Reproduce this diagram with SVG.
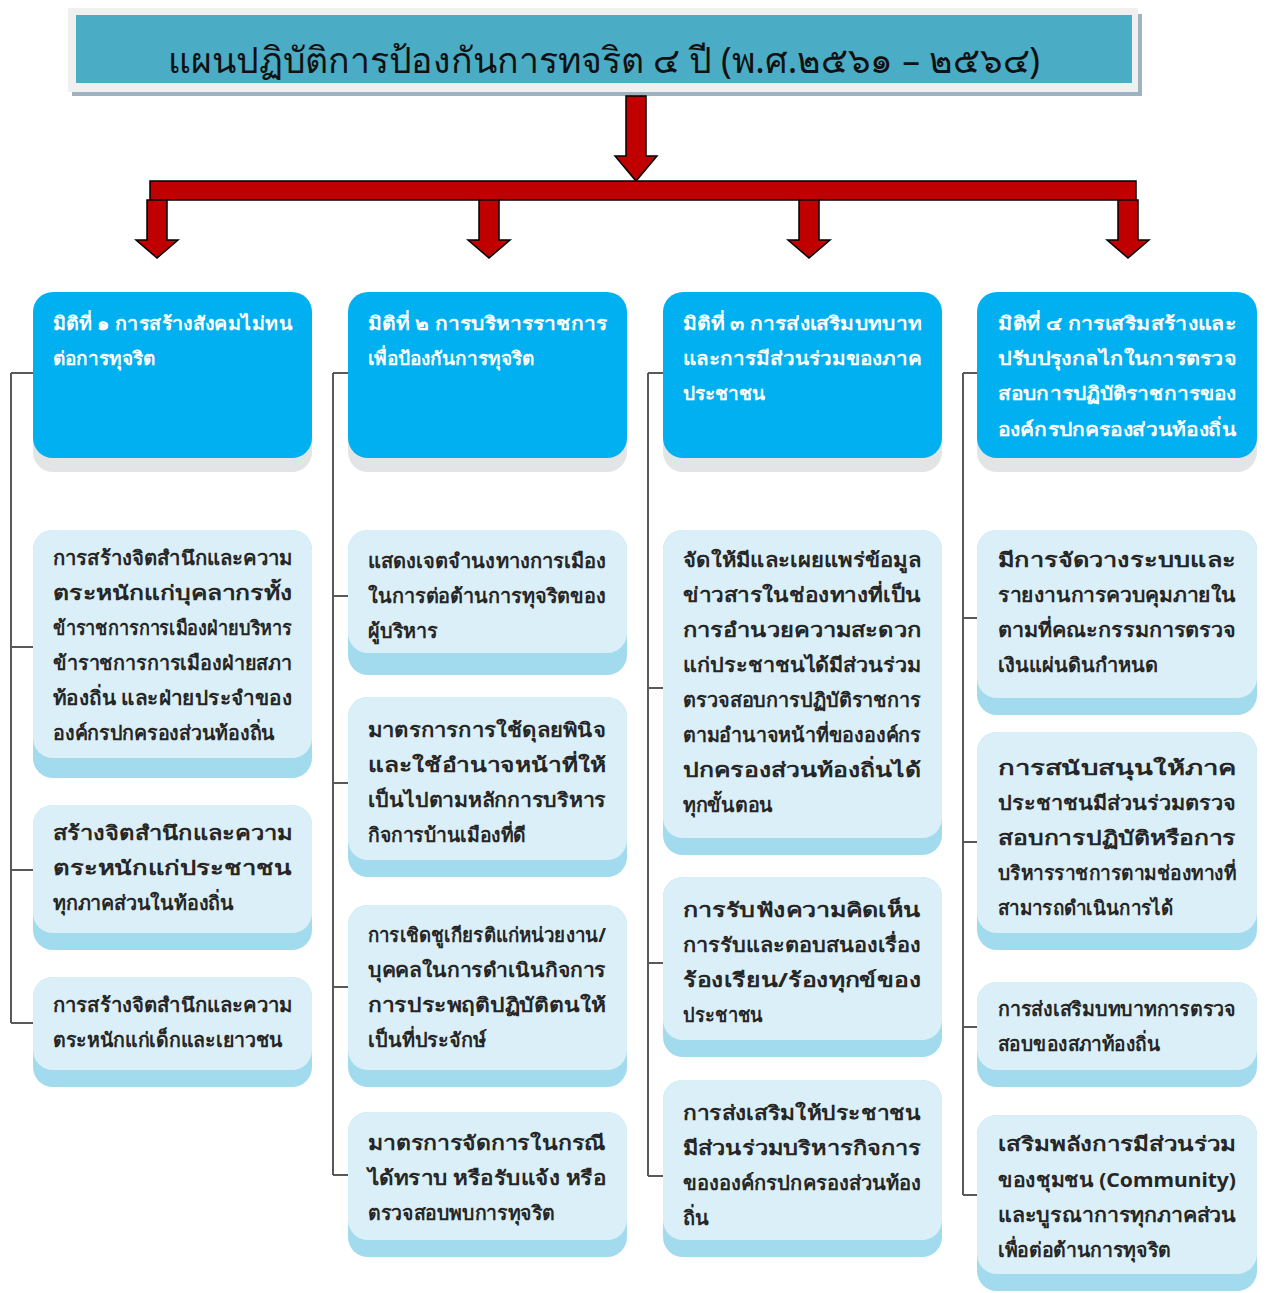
<svg xmlns="http://www.w3.org/2000/svg" width="1266" height="1293" viewBox="0 0 1266 1293">
<defs>
<style>
.title{font-family:"Noto Sans","Liberation Sans",sans-serif;font-size:36px;fill:#111}
.hd{font-family:"Noto Sans","Liberation Sans",sans-serif;font-size:19px;font-weight:bold;fill:#fff}
.tx{font-family:"Noto Sans","Liberation Sans",sans-serif;font-size:20px;font-weight:bold;fill:#262626}
.arrow{fill:#C00000;stroke:#000;stroke-width:1.5}
.conn{stroke:#595959;stroke-width:2;fill:none}
.hbox{fill:#00B0F0}
.hsh{fill:#E3E4E6}
.band{fill:#A2DBEE}
.face{fill:#DAEFF7}
</style>
</defs>
<rect width="1266" height="1293" fill="#fff"/>
<g id="title">
<rect x="72" y="14" width="1070" height="82" fill="#9EB3BF"/>
<rect x="68" y="8" width="1070" height="84" fill="#F0F0F0"/>
<rect x="76" y="15" width="1056" height="68" fill="#4BACC6"/>
<text class="title" x="168" y="73" textLength="872" lengthAdjust="spacingAndGlyphs">แผนปฏิบัติการป้องกันการทจริต ๔ ปี (พ.ศ.๒๕๖๑ – ๒๕๖๔)</text>
</g>
<g id="arrows">
<polygon class="arrow" points="626,96 646,96 646,156 657,156 636,181 615,156 626,156"/>
<rect class="arrow" x="150" y="181" width="986" height="19"/>
<polygon class="arrow" points="147,200 167,200 167,240 178,240 157,258 136,240 147,240"/>
<polygon class="arrow" points="479,200 499,200 499,240 510,240 489,258 468,240 479,240"/>
<polygon class="arrow" points="799,200 819,200 819,240 830,240 809,258 788,240 799,240"/>
<polygon class="arrow" points="1118,200 1138,200 1138,240 1149,240 1128,258 1107,240 1118,240"/>
</g>
<g id="connectors">
<path class="conn" d="M11,373 V1023 M11,373 H33 M11,647 H33 M11,870 H33 M11,1023 H33"/>
<path class="conn" d="M333,373 V1175 M333,373 H348 M333,596 H348 M333,783 H348 M333,987 H348 M333,1175 H348"/>
<path class="conn" d="M648,373 V1176 M648,373 H663 M648,688 H663 M648,963 H663 M648,1176 H663"/>
<path class="conn" d="M963,373 V1195 M963,373 H977 M963,618 H977 M963,842 H977 M963,1027 H977 M963,1195 H977"/>
</g>
<g id="h1">
<rect class="hsh" x="33" y="300" width="279" height="172" rx="20"/>
<rect class="hbox" x="33" y="292" width="279" height="166" rx="20"/>
<text class="hd" x="53" y="330" textLength="239" lengthAdjust="spacingAndGlyphs">มิติที่ ๑ การสร้างสังคมไม่ทน</text>
<text class="hd" x="53" y="365">ต่อการทุจริต</text>
</g>
<g id="h2">
<rect class="hsh" x="348" y="300" width="279" height="172" rx="20"/>
<rect class="hbox" x="348" y="292" width="279" height="166" rx="20"/>
<text class="hd" x="368" y="330" textLength="239" lengthAdjust="spacingAndGlyphs">มิติที่ ๒ การบริหารราชการ</text>
<text class="hd" x="368" y="365">เพื่อป้องกันการทุจริต</text>
</g>
<g id="h3">
<rect class="hsh" x="663" y="300" width="279" height="172" rx="20"/>
<rect class="hbox" x="663" y="292" width="279" height="166" rx="20"/>
<text class="hd" x="683" y="330" textLength="239" lengthAdjust="spacingAndGlyphs">มิติที่ ๓ การส่งเสริมบทบาท</text>
<text class="hd" x="683" y="365" textLength="239" lengthAdjust="spacingAndGlyphs">และการมีส่วนร่วมของภาค</text>
<text class="hd" x="683" y="400">ประชาชน</text>
</g>
<g id="h4">
<rect class="hsh" x="977" y="300" width="280" height="172" rx="20"/>
<rect class="hbox" x="977" y="292" width="280" height="166" rx="20"/>
<text class="hd" x="998" y="330" textLength="238" lengthAdjust="spacingAndGlyphs">มิติที่ ๔ การเสริมสร้างและ</text>
<text class="hd" x="998" y="365" textLength="238" lengthAdjust="spacingAndGlyphs">ปรับปรุงกลไกในการตรวจ</text>
<text class="hd" x="998" y="400" textLength="238" lengthAdjust="spacingAndGlyphs">สอบการปฏิบัติราชการของ</text>
<text class="hd" x="998" y="436" textLength="238" lengthAdjust="spacingAndGlyphs">องค์กรปกครองส่วนท้องถิ่น</text>
</g>
<g id="c1a">
<rect class="band" x="33" y="530" width="279" height="248" rx="20"/>
<rect class="face" x="33" y="530" width="279" height="228" rx="20"/>
<text class="tx" x="53" y="565" textLength="239" lengthAdjust="spacingAndGlyphs">การสร้างจิตสำนึกและความ</text>
<text class="tx" x="53" y="600" textLength="239" lengthAdjust="spacingAndGlyphs">ตระหนักแก่บุคลากรทั้ง</text>
<text class="tx" x="53" y="635" textLength="239" lengthAdjust="spacingAndGlyphs">ข้าราชการการเมืองฝ่ายบริหาร</text>
<text class="tx" x="53" y="670" textLength="239" lengthAdjust="spacingAndGlyphs">ข้าราชการการเมืองฝ่ายสภา</text>
<text class="tx" x="53" y="705" textLength="239" lengthAdjust="spacingAndGlyphs">ท้องถิ่น และฝ่ายประจำของ</text>
<text class="tx" x="53" y="740" textLength="222" lengthAdjust="spacingAndGlyphs">องค์กรปกครองส่วนท้องถิ่น</text>
</g>
<g id="c1b">
<rect class="band" x="33" y="805" width="279" height="145" rx="20"/>
<rect class="face" x="33" y="805" width="279" height="128" rx="20"/>
<text class="tx" x="53" y="840" textLength="239" lengthAdjust="spacingAndGlyphs">สร้างจิตสำนึกและความ</text>
<text class="tx" x="53" y="875" textLength="239" lengthAdjust="spacingAndGlyphs">ตระหนักแก่ประชาชน</text>
<text class="tx" x="53" y="910" textLength="181" lengthAdjust="spacingAndGlyphs">ทุกภาคส่วนในท้องถิ่น</text>
</g>
<g id="c1c">
<rect class="band" x="33" y="977" width="279" height="110" rx="20"/>
<rect class="face" x="33" y="977" width="279" height="93" rx="20"/>
<text class="tx" x="53" y="1012" textLength="239" lengthAdjust="spacingAndGlyphs">การสร้างจิตสำนึกและความ</text>
<text class="tx" x="53" y="1047" textLength="230" lengthAdjust="spacingAndGlyphs">ตระหนักแก่เด็กและเยาวชน</text>
</g>
<g id="c2a">
<rect class="band" x="348" y="530" width="279" height="145" rx="20"/>
<rect class="face" x="348" y="530" width="279" height="123" rx="20"/>
<text class="tx" x="368" y="568" textLength="238" lengthAdjust="spacingAndGlyphs">แสดงเจตจำนงทางการเมือง</text>
<text class="tx" x="368" y="603" textLength="238" lengthAdjust="spacingAndGlyphs">ในการต่อต้านการทุจริตของ</text>
<text class="tx" x="368" y="638" textLength="70" lengthAdjust="spacingAndGlyphs">ผู้บริหาร</text>
</g>
<g id="c2b">
<rect class="band" x="348" y="697" width="279" height="180" rx="20"/>
<rect class="face" x="348" y="697" width="279" height="163" rx="20"/>
<text class="tx" x="368" y="737" textLength="238" lengthAdjust="spacingAndGlyphs">มาตรการการใช้ดุลยพินิจ</text>
<text class="tx" x="368" y="772" textLength="238" lengthAdjust="spacingAndGlyphs">และใช้อำนาจหน้าที่ให้</text>
<text class="tx" x="368" y="807" textLength="238" lengthAdjust="spacingAndGlyphs">เป็นไปตามหลักการบริหาร</text>
<text class="tx" x="368" y="842" textLength="158" lengthAdjust="spacingAndGlyphs">กิจการบ้านเมืองที่ดี</text>
</g>
<g id="c2c">
<rect class="band" x="348" y="905" width="279" height="182" rx="20"/>
<rect class="face" x="348" y="905" width="279" height="165" rx="20"/>
<text class="tx" x="368" y="942" textLength="238" lengthAdjust="spacingAndGlyphs">การเชิดชูเกียรติแก่หน่วยงาน/</text>
<text class="tx" x="368" y="977" textLength="238" lengthAdjust="spacingAndGlyphs">บุคคลในการดำเนินกิจการ</text>
<text class="tx" x="368" y="1012" textLength="238" lengthAdjust="spacingAndGlyphs">การประพฤติปฏิบัติตนให้</text>
<text class="tx" x="368" y="1047" textLength="118" lengthAdjust="spacingAndGlyphs">เป็นที่ประจักษ์</text>
</g>
<g id="c2d">
<rect class="band" x="348" y="1112" width="279" height="145" rx="20"/>
<rect class="face" x="348" y="1112" width="279" height="128" rx="20"/>
<text class="tx" x="368" y="1150" textLength="238" lengthAdjust="spacingAndGlyphs">มาตรการจัดการในกรณี</text>
<text class="tx" x="368" y="1185" textLength="238" lengthAdjust="spacingAndGlyphs">ได้ทราบ หรือรับแจ้ง หรือ</text>
<text class="tx" x="368" y="1220" textLength="187" lengthAdjust="spacingAndGlyphs">ตรวจสอบพบการทุจริต</text>
</g>
<g id="c3a">
<rect class="band" x="663" y="530" width="279" height="325" rx="20"/>
<rect class="face" x="663" y="530" width="279" height="308" rx="20"/>
<text class="tx" x="683" y="567" textLength="238" lengthAdjust="spacingAndGlyphs">จัดให้มีและเผยแพร่ข้อมูล</text>
<text class="tx" x="683" y="602" textLength="238" lengthAdjust="spacingAndGlyphs">ข่าวสารในช่องทางที่เป็น</text>
<text class="tx" x="683" y="637" textLength="238" lengthAdjust="spacingAndGlyphs">การอำนวยความสะดวก</text>
<text class="tx" x="683" y="672" textLength="238" lengthAdjust="spacingAndGlyphs">แก่ประชาชนได้มีส่วนร่วม</text>
<text class="tx" x="683" y="707" textLength="238" lengthAdjust="spacingAndGlyphs">ตรวจสอบการปฏิบัติราชการ</text>
<text class="tx" x="683" y="742" textLength="238" lengthAdjust="spacingAndGlyphs">ตามอำนาจหน้าที่ขององค์กร</text>
<text class="tx" x="683" y="777" textLength="238" lengthAdjust="spacingAndGlyphs">ปกครองส่วนท้องถิ่นได้</text>
<text class="tx" x="683" y="812" textLength="90" lengthAdjust="spacingAndGlyphs">ทุกขั้นตอน</text>
</g>
<g id="c3b">
<rect class="band" x="663" y="877" width="279" height="180" rx="20"/>
<rect class="face" x="663" y="877" width="279" height="163" rx="20"/>
<text class="tx" x="683" y="917" textLength="238" lengthAdjust="spacingAndGlyphs">การรับฟังความคิดเห็น</text>
<text class="tx" x="683" y="952" textLength="238" lengthAdjust="spacingAndGlyphs">การรับและตอบสนองเรื่อง</text>
<text class="tx" x="683" y="987" textLength="238" lengthAdjust="spacingAndGlyphs">ร้องเรียน/ร้องทุกข์ของ</text>
<text class="tx" x="683" y="1022" textLength="80" lengthAdjust="spacingAndGlyphs">ประชาชน</text>
</g>
<g id="c3c">
<rect class="band" x="663" y="1080" width="279" height="177" rx="20"/>
<rect class="face" x="663" y="1080" width="279" height="160" rx="20"/>
<text class="tx" x="683" y="1120" textLength="238" lengthAdjust="spacingAndGlyphs">การส่งเสริมให้ประชาชน</text>
<text class="tx" x="683" y="1155" textLength="238" lengthAdjust="spacingAndGlyphs">มีส่วนร่วมบริหารกิจการ</text>
<text class="tx" x="683" y="1190" textLength="238" lengthAdjust="spacingAndGlyphs">ขององค์กรปกครองส่วนท้อง</text>
<text class="tx" x="683" y="1225">ถิ่น</text>
</g>
<g id="c4a">
<rect class="band" x="977" y="530" width="280" height="185" rx="20"/>
<rect class="face" x="977" y="530" width="280" height="168" rx="20"/>
<text class="tx" x="998" y="567" textLength="238" lengthAdjust="spacingAndGlyphs">มีการจัดวางระบบและ</text>
<text class="tx" x="998" y="602" textLength="238" lengthAdjust="spacingAndGlyphs">รายงานการควบคุมภายใน</text>
<text class="tx" x="998" y="637" textLength="238" lengthAdjust="spacingAndGlyphs">ตามที่คณะกรรมการตรวจ</text>
<text class="tx" x="998" y="672" textLength="160" lengthAdjust="spacingAndGlyphs">เงินแผ่นดินกำหนด</text>
</g>
<g id="c4b">
<rect class="band" x="977" y="732" width="280" height="218" rx="20"/>
<rect class="face" x="977" y="732" width="280" height="201" rx="20"/>
<text class="tx" x="998" y="775" textLength="238" lengthAdjust="spacingAndGlyphs">การสนับสนุนให้ภาค</text>
<text class="tx" x="998" y="810" textLength="238" lengthAdjust="spacingAndGlyphs">ประชาชนมีส่วนร่วมตรวจ</text>
<text class="tx" x="998" y="845" textLength="238" lengthAdjust="spacingAndGlyphs">สอบการปฏิบัติหรือการ</text>
<text class="tx" x="998" y="880" textLength="238" lengthAdjust="spacingAndGlyphs">บริหารราชการตามช่องทางที่</text>
<text class="tx" x="998" y="915" textLength="175" lengthAdjust="spacingAndGlyphs">สามารถดำเนินการได้</text>
</g>
<g id="c4c">
<rect class="band" x="977" y="982" width="280" height="105" rx="20"/>
<rect class="face" x="977" y="982" width="280" height="88" rx="20"/>
<text class="tx" x="998" y="1016" textLength="238" lengthAdjust="spacingAndGlyphs">การส่งเสริมบทบาทการตรวจ</text>
<text class="tx" x="998" y="1051" textLength="162" lengthAdjust="spacingAndGlyphs">สอบของสภาท้องถิ่น</text>
</g>
<g id="c4d">
<rect class="band" x="977" y="1115" width="280" height="176" rx="20"/>
<rect class="face" x="977" y="1115" width="280" height="159" rx="20"/>
<text class="tx" x="998" y="1151" textLength="238" lengthAdjust="spacingAndGlyphs">เสริมพลังการมีส่วนร่วม</text>
<text class="tx" x="998" y="1187" textLength="238" lengthAdjust="spacingAndGlyphs">ของชุมชน (Community)</text>
<text class="tx" x="998" y="1222" textLength="238" lengthAdjust="spacingAndGlyphs">และบูรณาการทุกภาคส่วน</text>
<text class="tx" x="998" y="1257" textLength="173" lengthAdjust="spacingAndGlyphs">เพื่อต่อต้านการทุจริต</text>
</g>
</svg>
